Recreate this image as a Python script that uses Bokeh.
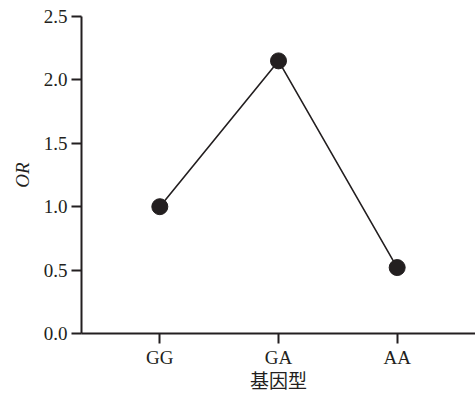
from bokeh.plotting import figure
from bokeh.models import FactorRange, Range1d, FixedTicker, PrintfTickFormatter
from bokeh.embed import file_html
from bokeh.resources import INLINE

genotypes = ["GG", "GA", "AA"]
or_values = [1.0, 2.15, 0.52]
y_ticks = [0.0, 0.5, 1.0, 1.5, 2.0, 2.5]

ink = "#231f20"
serif = "Liberation Serif, Noto Sans CJK SC"

p = figure(width=475, height=395, output_backend="svg", toolbar_location=None,
           x_range=FactorRange(factors=genotypes, range_padding=0.16, range_padding_units="absolute"),
           y_range=Range1d(0, 2.5),
           min_border_left=81, min_border_right=0, min_border_top=16, min_border_bottom=62)
p.outline_line_color = None
p.grid.visible = False
p.background_fill_color = "white"
p.border_fill_color = "white"

p.line(genotypes, or_values, line_color=ink, line_width=1.6)
p.scatter(genotypes, or_values, size=16, fill_color=ink, line_color=ink)

for ax in (p.xaxis[0], p.yaxis[0]):
    ax.axis_line_color = ink
    ax.axis_line_width = 2
    ax.major_tick_line_color = ink
    ax.major_tick_line_width = 2
    ax.major_tick_out = 10
    ax.major_tick_in = 0
    ax.minor_tick_line_color = None
    ax.major_label_text_font = serif
    ax.major_label_text_color = ink
    ax.major_label_text_font_size = "19px"
    ax.axis_label_text_font = serif
    ax.axis_label_text_color = ink
    ax.axis_label_text_font_size = "19px"
    ax.axis_label_text_font_style = "normal"

p.yaxis.ticker = FixedTicker(ticks=y_ticks)
p.yaxis.formatter = PrintfTickFormatter(format="%.1f")
p.yaxis.axis_label = "OR"
p.yaxis.axis_label_text_font_style = "italic"
p.yaxis.major_label_standoff = 4
p.yaxis.axis_label_standoff = 8
p.xaxis.axis_label = "基因型"
p.xaxis.major_label_standoff = 3
p.xaxis.axis_label_standoff = 0

open("out.html", "w").write(file_html(p, INLINE))
